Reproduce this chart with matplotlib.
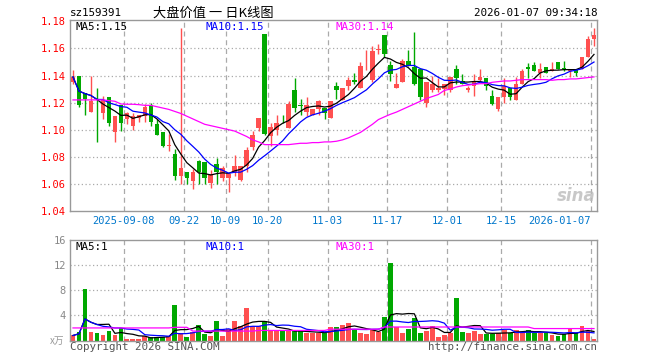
import numpy as np
import pandas as pd
import matplotlib
matplotlib.use("Agg")
import matplotlib.pyplot as plt
from matplotlib.transforms import blended_transform_factory

# daily candles, values
opens = [1.135, 1.140, 1.127, 1.113, 1.1112, 1.112, 1.124, 1.098, 1.118, 1.108,
         1.103, 1.109, 1.110, 1.118, 1.104, 1.098, 1.088, 1.082, 1.066, 1.069,
         1.062, 1.077, 1.076, 1.061, 1.075, 1.064, 1.064, 1.069, 1.063, 1.073,
         1.087, 1.101, 1.171, 1.095, 1.100, 1.1112, 1.101, 1.129, 1.1182, 1.113,
         1.111, 1.115, 1.116, 1.109, 1.132, 1.122, 1.132, 1.137, 1.131, 1.146,
         1.137, 1.159, 1.170, 1.148, 1.131, 1.135, 1.151, 1.146, 1.145, 1.120,
         1.129, 1.129, 1.130, 1.129, 1.145, 1.136, 1.129, 1.132, 1.137, 1.138,
         1.125, 1.115, 1.124, 1.131, 1.122, 1.134, 1.146, 1.148, 1.142, 1.146,
         1.143, 1.150, 1.1452, 1.143, 1.145, 1.1445, 1.154, 1.167]
highs = [1.144, 1.140, 1.127, 1.140, 1.131, 1.125, 1.124, 1.110, 1.118, 1.113,
         1.112, 1.111, 1.119, 1.120, 1.108, 1.098, 1.097, 1.086, 1.175, 1.069,
         1.071, 1.078, 1.076, 1.070, 1.079, 1.073, 1.067, 1.081, 1.073, 1.087,
         1.099, 1.109, 1.171, 1.105, 1.111, 1.111, 1.121, 1.138, 1.123, 1.124,
         1.115, 1.122, 1.116, 1.121, 1.135, 1.131, 1.139, 1.142, 1.150, 1.159,
         1.162, 1.163, 1.170, 1.151, 1.142, 1.152, 1.159, 1.172, 1.145, 1.135,
         1.140, 1.138, 1.134, 1.139, 1.148, 1.141, 1.132, 1.141, 1.145, 1.138,
         1.129, 1.124, 1.138, 1.131, 1.139, 1.145, 1.149, 1.150, 1.149, 1.146,
         1.150, 1.150, 1.151, 1.145, 1.145, 1.154, 1.169, 1.175]
lows = [1.134, 1.117, 1.111, 1.113, 1.091, 1.108, 1.103, 1.091, 1.099, 1.104,
        1.100, 1.106, 1.106, 1.103, 1.096, 1.087, 1.084, 1.063, 1.060, 1.060,
        1.056, 1.060, 1.060, 1.057, 1.060, 1.062, 1.054, 1.066, 1.062, 1.069,
        1.085, 1.099, 1.096, 1.088, 1.096, 1.105, 1.101, 1.113, 1.111, 1.110,
        1.111, 1.111, 1.108, 1.109, 1.123, 1.122, 1.129, 1.134, 1.131, 1.144,
        1.135, 1.156, 1.154, 1.136, 1.131, 1.135, 1.147, 1.133, 1.122, 1.117,
        1.128, 1.128, 1.126, 1.128, 1.134, 1.134, 1.128, 1.125, 1.136, 1.129,
        1.118, 1.114, 1.120, 1.122, 1.122, 1.134, 1.138, 1.143, 1.138, 1.142,
        1.143, 1.145, 1.143, 1.139, 1.140, 1.1445, 1.154, 1.162]
closes = [1.139, 1.118, 1.123, 1.121, 1.1108, 1.122, 1.105, 1.110, 1.105, 1.112,
          1.110, 1.111, 1.117, 1.106, 1.096, 1.088, 1.0885, 1.066, 1.072, 1.064,
          1.069, 1.069, 1.064, 1.067, 1.069, 1.072, 1.067, 1.073, 1.073, 1.085,
          1.096, 1.109, 1.097, 1.102, 1.105, 1.1108, 1.119, 1.116, 1.1178, 1.118,
          1.115, 1.121, 1.112, 1.121, 1.129, 1.131, 1.137, 1.135, 1.147, 1.1465,
          1.158, 1.1595, 1.156, 1.141, 1.134, 1.151, 1.147, 1.134, 1.124, 1.135,
          1.134, 1.131, 1.134, 1.139, 1.138, 1.134, 1.131, 1.136, 1.139, 1.132,
          1.119, 1.124, 1.132, 1.124, 1.134, 1.143, 1.1445, 1.143, 1.145, 1.142,
          1.145, 1.145, 1.1448, 1.145, 1.142, 1.154, 1.167, 1.170]
volumes = [0.8, 1.33, 8.16, 1.33, 1.12, 0.85, 1.5, 0.9, 2.0, 0.27,
           0.27, 0.27, 0.7, 0.55, 0.55, 0.55, 0.7, 5.65, 1.2, 0.6,
           1.4, 2.4, 1.07, 0.7, 3.1, 0.7, 1.76, 3.1, 2.3, 5.2,
           2.3, 2.3, 3.1, 1.5, 1.5, 1.5, 1.5, 1.5, 1.5, 1.2,
           1.2, 1.2, 1.2, 2.2, 2.2, 2.5, 2.8, 1.87, 1.2, 1.07,
           1.6, 1.4, 3.8, 12.4, 2.2, 1.2, 1.87, 3.6, 1.2, 1.5,
           2.3, 0.6, 0.8, 1.2, 6.77, 1.33, 1.12, 1.5, 1.07, 0.96,
           1.07, 1.2, 1.65, 1.2, 1.65, 1.33, 1.65, 1.2, 1.2, 1.2,
           0.8, 0.7, 1.07, 1.9, 1.2, 2.3, 1.5, 0.27]
ma30 = [1.122, 1.122, 1.122, 1.122, 1.122, 1.122, 1.1215, 1.121, 1.119, 1.1188,
        1.1188, 1.1185, 1.118, 1.118, 1.117, 1.116, 1.115, 1.1135, 1.112, 1.110,
        1.108, 1.106, 1.104, 1.103, 1.102, 1.101, 1.100, 1.099, 1.097, 1.095,
        1.0925, 1.091, 1.089, 1.089, 1.089, 1.089, 1.089, 1.0895, 1.090, 1.090,
        1.0905, 1.0905, 1.091, 1.091, 1.0915, 1.0925, 1.094, 1.096, 1.098, 1.101,
        1.104, 1.1075, 1.1095, 1.1114, 1.113, 1.115, 1.117, 1.119, 1.121, 1.123,
        1.1245, 1.126, 1.129, 1.130, 1.1315, 1.1325, 1.133, 1.1335, 1.134, 1.134,
        1.135, 1.1355, 1.136, 1.136, 1.1365, 1.137, 1.137, 1.137, 1.137, 1.137,
        1.1365, 1.137, 1.137, 1.1375, 1.1375, 1.138, 1.1385, 1.139]
vol_ma30 = [2.0] * 17 + [2.1] * 3 + [1.5] * 11 + [1.6] * 12 + [1.8] * 9 + [2.15] * 25 + [1.9] * 11

tick_idx = [9, 19, 26, 33, 43, 53, 63, 72, 87]
tick_labels = ["2025-09-08", "09-22", "10-09", "10-20", "11-03",
               "11-17", "12-01", "12-15", "2026-01-07"]
price_ticks = [1.04, 1.06, 1.08, 1.10, 1.12, 1.14, 1.16, 1.18]
vol_ticks = [4, 8, 12, 16]

UP = "#ff5050"
DOWN = "#00a800"
GRID = "#aaaaaa"
MONO = "DejaVu Sans Mono"

n = len(closes)
x = np.arange(n)
o = np.array(opens)
c = np.array(closes)
up = c >= o
colors = [UP if u else DOWN for u in up]

ma5 = pd.Series(closes).rolling(5, min_periods=1).mean()
ma10 = pd.Series(closes).rolling(10, min_periods=1).mean()
vma5 = pd.Series(volumes).rolling(5, min_periods=1).mean()
vma10 = pd.Series(volumes).rolling(10, min_periods=1).mean()

W, H = 660, 360
fig = plt.figure(figsize=(6.6, 3.6), dpi=100)
ax = fig.add_axes([70 / W, 1 - 211 / H, 527 / W, 191 / H])
axv = fig.add_axes([70 / W, 1 - 340.5 / H, 527 / W, 100.5 / H])

# price panel
body_low = np.minimum(o, c)
body_h = np.maximum(np.abs(c - o), 0.0004)
ax.vlines(x, lows, highs, colors=colors, linewidth=1, zorder=2)
ax.bar(x, body_h, bottom=body_low, width=0.75, color=colors, linewidth=0, zorder=3)
ax.plot(x, ma5, color="black", linewidth=0.9, zorder=4)
ax.plot(x, ma10, color="#0000ff", linewidth=0.9, zorder=4)
ax.plot(x, ma30, color="#ff00ff", linewidth=0.9, zorder=4)

# volume panel
axv.bar(x, volumes, width=0.8, color=colors, linewidth=0, zorder=2)
axv.plot(x, vma5, color="black", linewidth=0.9, zorder=3)
axv.plot(x, vma10, color="#0000ff", linewidth=0.9, zorder=3)
axv.plot(x, vol_ma30, color="#ff00ff", linewidth=0.9, zorder=3)

for a in (ax, axv):
    a.set_xlim(-0.5, n - 0.5)
    for s in a.spines.values():
        s.set_color("#999999")
        s.set_linewidth(1)
    a.tick_params(length=0)
    a.set_xticks([])
    for t in tick_idx:
        a.axvline(t - 0.5, color=GRID, linewidth=0.9, linestyle=(0, (4, 3)), zorder=1)

ax.set_ylim(1.04, 1.181)
ax.set_yticks(price_ticks)
ax.set_yticklabels([f"{v:.2f}" for v in price_ticks], color="red",
                   fontsize=7.5, family=MONO)
for v in price_ticks[1:-1]:
    ax.axhline(v, color=GRID, linewidth=0.9, linestyle=(0, (1, 2)), zorder=1)

axv.set_ylim(0, 16)
axv.set_yticks(vol_ticks)
axv.set_yticklabels([str(v) for v in vol_ticks], color="#888888",
                    fontsize=7.5, family=MONO)
for v in vol_ticks[:-1]:
    axv.axhline(v, color=GRID, linewidth=0.9, linestyle=(0, (1, 2)), zorder=1)
ax.tick_params(axis="y", pad=3)
axv.tick_params(axis="y", pad=3)

# date labels under the price panel
trans = blended_transform_factory(ax.transData, ax.transAxes)
for t, lab in zip(tick_idx, tick_labels):
    ha = "right" if t == n - 1 else "center"
    ax.text(t - 0.5, -10 / 191, lab, transform=trans, ha=ha, va="center",
            color="#0077cc", fontsize=7.5, family=MONO)


def ftext(px, py, s, **kw):
    fig.text(px / W, 1 - py / H, s, **kw)


ftext(70, 13, "sz159391", ha="left", va="center", fontsize=7.8, family=MONO)
ftext(213, 13, "大盘价值 一 日K线图", ha="center", va="center", fontsize=9.5,
      family=["Noto Sans CJK SC", "DejaVu Sans"])
ftext(597, 13, "2026-01-07 09:34:18", ha="right", va="center", fontsize=7.8, family=MONO)

ftext(75, 27, "MA5:1.15", ha="left", va="center", fontsize=7.8, family=MONO, color="black")
ftext(205, 27, "MA10:1.15", ha="left", va="center", fontsize=7.8, family=MONO, color="#0000ff")
ftext(335, 27, "MA30:1.14", ha="left", va="center", fontsize=7.8, family=MONO, color="#ff00ff")

ftext(75, 247, "MA5:1", ha="left", va="center", fontsize=7.8, family=MONO, color="black")
ftext(205, 247, "MA10:1", ha="left", va="center", fontsize=7.8, family=MONO, color="#0000ff")
ftext(335, 247, "MA30:1", ha="left", va="center", fontsize=7.8, family=MONO, color="#ff00ff")

ftext(64, 341, "x万", ha="right", va="center", fontsize=7, color="#999999",
      family=["Noto Sans CJK SC", "DejaVu Sans"])
ftext(70, 347, "Copyright 2026 SINA.COM", ha="left", va="center", fontsize=7.8,
      family=MONO, color="#555555")
ftext(597, 347, "http://finance.sina.com.cn", ha="right", va="center", fontsize=7.8,
      family=MONO, color="#555555")

ftext(596, 196, "sina", ha="right", va="center", fontsize=12, style="italic",
      weight="bold", color="#bbbbbb", alpha=0.8)

fig.savefig("out.png", dpi=100)
